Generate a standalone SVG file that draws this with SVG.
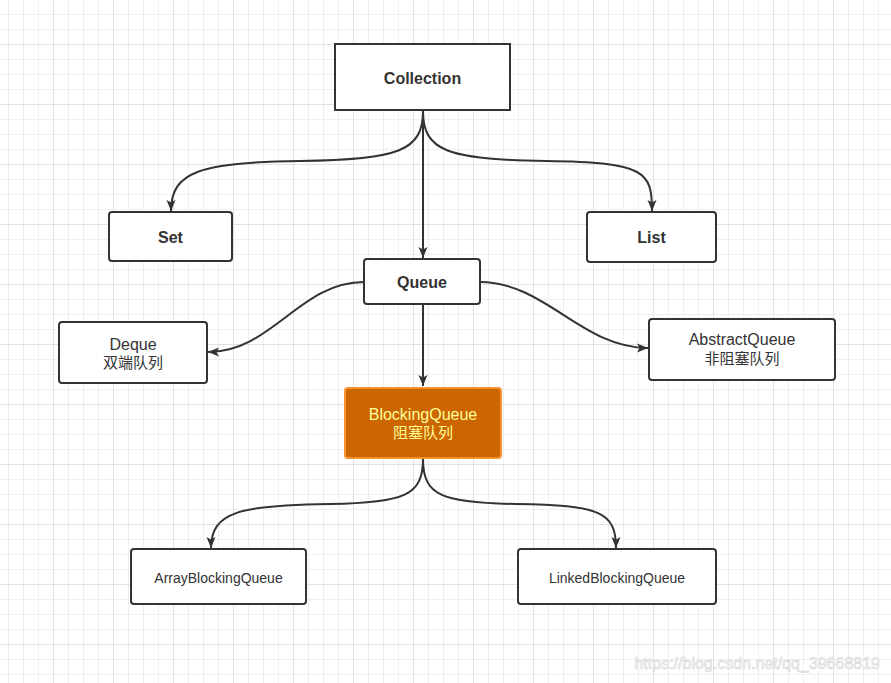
<svg xmlns="http://www.w3.org/2000/svg" width="891" height="683" viewBox="0 0 891 683">
<style>
.box{fill:#ffffff;stroke:#333333;stroke-width:2}
.hot{fill:#CC6600;stroke:#F7932E;stroke-width:2}
.edge{fill:none;stroke:#333333;stroke-width:2}
.t{font-family:"Liberation Sans","Noto Sans CJK SC",sans-serif;fill:#333333;text-anchor:middle}
.b{font-weight:bold;font-size:16px}
.r{font-size:16px}
.c{font-size:15px}
.s{font-size:14px}
.y{fill:#FFFF99}
</style>
<defs>
<pattern id="grid" patternUnits="userSpaceOnUse" x="53" y="44" width="60" height="60">
<rect x="0" y="0" width="60" height="60" fill="#ffffff"/>
<rect x="15" y="0" width="1" height="60" fill="#efefef"/>
<rect x="30" y="0" width="1" height="60" fill="#efefef"/>
<rect x="45" y="0" width="1" height="60" fill="#efefef"/>
<rect x="0" y="15" width="60" height="1" fill="#efefef"/>
<rect x="0" y="30" width="60" height="1" fill="#efefef"/>
<rect x="0" y="45" width="60" height="1" fill="#efefef"/>
<rect x="0" y="0" width="1" height="60" fill="#e2e2e2"/>
<rect x="0" y="0" width="60" height="1" fill="#e2e2e2"/>
</pattern>
<marker id="arr" markerUnits="userSpaceOnUse" markerWidth="12" markerHeight="10" viewBox="0 0 12 10" refX="11" refY="5" orient="auto">
<path d="M0,0.5 L11,5 L0,9.5 L2.5,5 Z" fill="#333333"/>
</marker>
</defs>
<rect x="0" y="0" width="891" height="683" fill="url(#grid)"/>
<g id="connectors">
<path class="edge" d="M423,111 C423,150 400,160 300,161 C200,162 171,172 171,211" marker-end="url(#arr)"/>
<path class="edge" d="M423,111 C423,150 446,160 546,161 C646,162 652,172 652,211" marker-end="url(#arr)"/>
<path class="edge" d="M423,111 L423,258" marker-end="url(#arr)"/>
<path class="edge" d="M364,282 C300,282 272,352 208,352" marker-end="url(#arr)"/>
<path class="edge" d="M480,282 C545,282 582,348 648,348" marker-end="url(#arr)"/>
<path class="edge" d="M423,305 L423,386" marker-end="url(#arr)"/>
<path class="edge" d="M423,459 C423,495 405,503 330,504 C240,505 211,512 211,548" marker-end="url(#arr)"/>
<path class="edge" d="M423,459 C423,495 441,503 516,504 C600,505 616,512 616,548" marker-end="url(#arr)"/>
</g>
<g id="collection">
<rect class="box" x="335" y="44" width="175" height="66"/>
<text class="t b" x="422.5" y="84">Collection</text>
</g>
<g id="set">
<rect class="box" x="109" y="212" width="123" height="49" rx="3"/>
<text class="t b" x="170.5" y="242.5">Set</text>
</g>
<g id="list">
<rect class="box" x="587" y="212" width="129" height="50" rx="3"/>
<text class="t b" x="651.5" y="242.5">List</text>
</g>
<g id="queue">
<rect class="box" x="364" y="259" width="116" height="45" rx="3"/>
<text class="t b" x="422" y="287.5">Queue</text>
</g>
<g id="deque">
<rect class="box" x="59" y="322" width="148" height="61" rx="3"/>
<text class="t r" x="133" y="350">Deque</text>
<text class="t c" x="133" y="368">双端队列</text>
</g>
<g id="abstractqueue">
<rect class="box" x="649" y="319" width="186" height="61" rx="3"/>
<text class="t r" x="742" y="345">AbstractQueue</text>
<text class="t c" x="742" y="364">非阻塞队列</text>
</g>
<g id="blockingqueue">
<rect class="hot" x="345" y="388" width="156" height="70" rx="3"/>
<text class="t r y" x="423" y="420">BlockingQueue</text>
<text class="t c y" x="423" y="438">阻塞队列</text>
</g>
<g id="arrayblockingqueue">
<rect class="box" x="131" y="549" width="175" height="55" rx="3"/>
<text class="t s" x="218.5" y="582.5">ArrayBlockingQueue</text>
</g>
<g id="linkedblockingqueue">
<rect class="box" x="518" y="549" width="198" height="55" rx="3"/>
<text class="t s" x="617" y="582.5">LinkedBlockingQueue</text>
</g>
<text x="880" y="669" font-family="Liberation Sans, sans-serif" font-size="16" text-anchor="end" fill="#f7f7f7" stroke="#d6d6d6" stroke-width="0.6">https://blog.csdn.net/qq_39668819</text>
</svg>
